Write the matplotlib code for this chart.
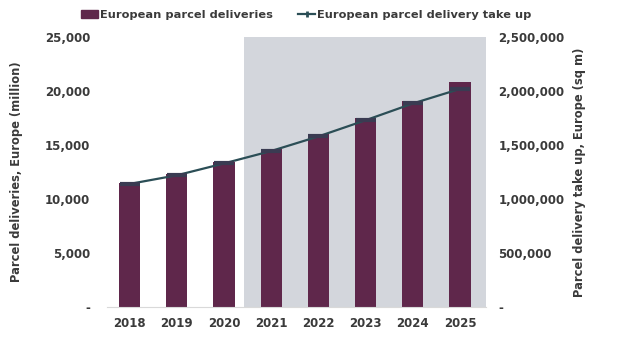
import matplotlib
matplotlib.use('Agg')
import matplotlib.pyplot as plt
from matplotlib.ticker import FuncFormatter
from matplotlib.lines import Line2D
from matplotlib.patches import Patch

years = ['2018', '2019', '2020', '2021', '2022', '2023', '2024', '2025']
deliveries = [11500, 12300, 13400, 14650, 16000, 17500, 19050, 20800]
take_up = [1140000, 1220000, 1330000, 1445000, 1580000, 1730000, 1885000, 2020000]

bar_color = '#5f274b'
line_color = '#2b4e56'
mark_color = '#3a3b52'
shade_color = '#d3d6dc'
text_color = '#3a3a3a'

plt.rcParams['font.family'] = ['DejaVu Sans']
plt.rcParams['font.weight'] = 'bold'

fig = plt.figure(figsize=(6.2, 3.4), dpi=100)
ax = fig.add_axes([0.1726, 0.097, 0.6113, 0.794])
ax2 = ax.twinx()

x = list(range(len(years)))

# forecast shading
ax.axvspan(2.42, 7.55, color=shade_color, lw=0, zorder=0)

ax.bar(x, deliveries, width=0.45, color=bar_color, zorder=2)
ax2.plot(x, take_up, color=line_color, lw=1.6, zorder=3)
ax2.plot(x, take_up, ls='none', marker='_', ms=15, mew=3,
         color=mark_color, zorder=3)

ax.set_xlim(-0.48, 7.55)
ax.set_ylim(0, 25000)
ax2.set_ylim(0, 2500000)
ax.set_yticks(range(0, 25001, 5000))
ax2.set_yticks(range(0, 2500001, 500000))

fmt = FuncFormatter(lambda v, p: '-' if v == 0 else f'{int(v):,}')
ax.yaxis.set_major_formatter(fmt)
ax2.yaxis.set_major_formatter(fmt)

ax.set_xticks(x)
ax.set_xticklabels(years)

for a in (ax, ax2):
    for s in a.spines.values():
        s.set_visible(False)
    a.tick_params(length=0, labelsize=8.5, colors=text_color)
ax.spines['bottom'].set_visible(True)
ax.spines['bottom'].set_color('#d9d9d9')
ax.tick_params(axis='x', pad=7)
ax.tick_params(axis='y', pad=12)
ax2.tick_params(axis='y', pad=9)

ax.set_ylabel('Parcel deliveries, Europe (million)', fontsize=8.3,
              color=text_color, labelpad=16, fontweight='bold')
ax2.set_ylabel('Parcel delivery take up, Europe (sq m)', fontsize=8.3,
               color=text_color, labelpad=6, fontweight='bold')

ax.patch.set_visible(False)

handles = [Patch(color=bar_color),
           Line2D([], [], color=line_color, lw=1.6, marker='|', ms=4, mew=2)]
labels = ['European parcel deliveries', 'European parcel delivery take up']
fig.legend(handles, labels, loc='center', bbox_to_anchor=(0.494, 0.956),
           ncol=2, frameon=False, fontsize=8.2, handlelength=1.5,
           handleheight=0.6, handletextpad=0.15, columnspacing=2.2,
           labelcolor=text_color)

fig.savefig('out.png', dpi=100)
